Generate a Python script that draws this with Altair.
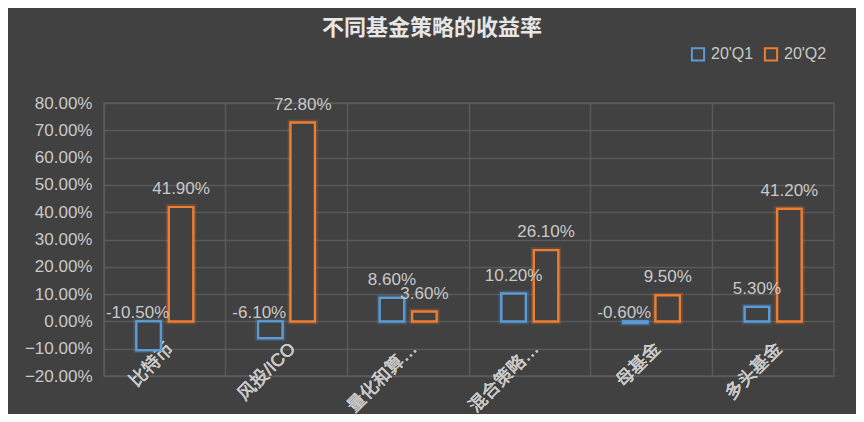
import altair as alt
import pandas as pd

categories = ["比特币", "风投/ICO", "量化和算…", "混合策略…", "母基金", "多头基金"]
series_names = ["20'Q1", "20'Q2"]
q1_values = [-10.5, -6.1, 8.6, 10.2, -0.6, 5.3]
q2_values = [41.9, 72.8, 3.6, 26.1, 9.5, 41.2]
y_ticks = [-0.2, -0.1, 0.0, 0.1, 0.2, 0.3, 0.4, 0.5, 0.6, 0.7, 0.8]

rows = []
for cat, a, b in zip(categories, q1_values, q2_values):
    for s, v in zip(series_names, [a, b]):
        rows.append({
            "cat": cat,
            "series": s,
            "value": v / 100.0,
            "label_y": max(v, 0) / 100.0,
            "label": f"{v:.2f}%",
            "neg": v < 0,
        })
df = pd.DataFrame(rows)

BLUE = "#5B9BD5"
ORANGE = "#ED7D31"
BG = "#414141"
GRID = "#5a5a5a"
TXT = "#c9c9c9"
FONT = "Liberation Sans, Noto Sans CJK SC"

x_enc = alt.X(
    "cat:N", sort=categories, title=None,
    scale=alt.Scale(paddingInner=0, paddingOuter=0),
    axis=alt.Axis(orient="bottom", offset=-54.6, labelAngle=-45, labelFontSize=18,
                  labelColor=TXT, labelFont=FONT, ticks=False, domain=False, grid=False,
                  labelPadding=18),
)
x_grid = alt.X(
    "cat:N", sort=categories, title=None,
    scale=alt.Scale(paddingInner=0, paddingOuter=0),
    axis=alt.Axis(orient="top", labels=False, ticks=False, domain=False, grid=True,
                  bandPosition=0, gridColor=GRID, gridWidth=1.5),
)
xo = alt.XOffset("series:N", sort=series_names,
                 scale=alt.Scale(paddingInner=0.25, paddingOuter=1))
y_axis = alt.Axis(values=y_ticks, format=".2%", labelFontSize=17, labelColor=TXT,
                  labelFont=FONT, ticks=False, domain=False, grid=True, labelOverlap=False,
                  gridColor=GRID, gridWidth=1.5, labelPadding=12)
y_scale = alt.Scale(domain=[-0.2, 0.8], nice=False)
y_enc = alt.Y("value:Q", title=None, scale=y_scale, axis=y_axis)
y_lab = alt.Y("label_y:Q", title=None, scale=y_scale, axis=y_axis)

stroke_scale = alt.Scale(domain=series_names, range=[BLUE, ORANGE])
legend = alt.Legend(orient="none", legendX=586, legendY=-57, direction="horizontal",
                    symbolType="square", symbolSize=150, symbolStrokeWidth=2,
                    symbolFillColor="#333333", labelFontSize=16, labelColor=TXT,
                    labelFont=FONT, columnPadding=6, labelOffset=5)
stroke_enc = alt.Stroke("series:N", scale=stroke_scale, title=None, legend=legend)

base = alt.Chart(df)

bars = base.mark_bar(fill=BG, strokeWidth=2.2).encode(
    x=x_enc, xOffset=xo, y=y_enc, stroke=stroke_enc,
)

glow = base.mark_bar(fill=BG, strokeWidth=6, strokeOpacity=0.22).encode(
    x=x_grid, xOffset=xo, y=y_enc, stroke=stroke_enc,
)

pos_labels = base.transform_filter("!datum.neg").mark_text(
    baseline="alphabetic", dy=-13, fontSize=17, color=TXT, font=FONT
).encode(x=x_enc, xOffset=xo, y=y_lab, text="label:N")

neg_labels = base.transform_filter("datum.neg").mark_text(
    baseline="alphabetic", dy=-3, dx=-11, fontSize=17, color=TXT, font=FONT
).encode(x=x_enc, xOffset=xo, y=y_lab, text="label:N")

chart = alt.layer(bars, glow, bars, pos_labels, neg_labels).resolve_axis(x="independent").properties(
    width=730,
    height=273,
    padding={"left": 96, "top": 95, "right": 22, "bottom": 38},
    autosize=alt.AutoSizeParams(type="none"),
    background=BG,
    title=alt.TitleParams("不同基金策略的收益率", fontSize=22, fontWeight="bold",
                          color="#e6e6e6", font="Noto Sans CJK SC", offset=6, dx=-37),
).configure_view(stroke=GRID, strokeWidth=1.5)

chart.save("out.html", embed_options={"renderer": "svg", "actions": False})
